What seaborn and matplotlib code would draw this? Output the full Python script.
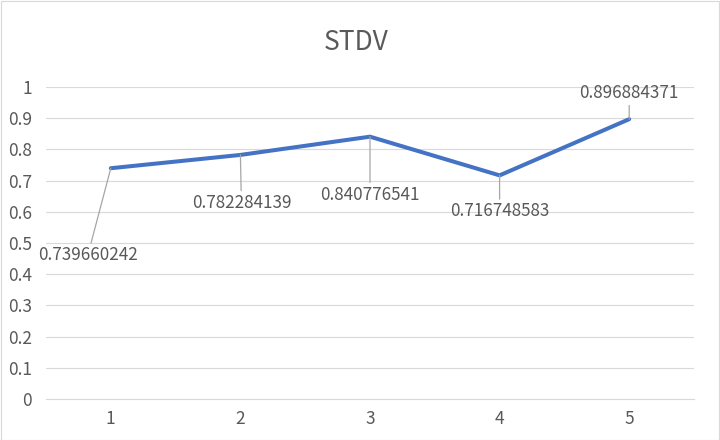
import matplotlib
matplotlib.use('Agg')
import matplotlib.pyplot as plt
import pandas as pd
import seaborn as sns
from matplotlib.patches import Rectangle

runs = [1, 2, 3, 4, 5]
stdv = [0.739660242, 0.782284139, 0.840776541, 0.716748583, 0.896884371]
# where each data label sits relative to its point (pixels)
label_offsets = [(-23, -87), (1, -48), (0, -58), (0, -36), (0, 26)]

sns.set_theme(style='white')
plt.rcParams['font.family'] = ['Noto Sans CJK SC', 'DejaVu Sans']

df = pd.DataFrame({'run': runs, 'stdv': stdv})

fig = plt.figure(figsize=(7.2, 4.4), dpi=100)
ax = fig.add_axes([46 / 720, 1 - 399 / 440, 648 / 720, 312 / 440])

sns.lineplot(data=df, x='run', y='stdv', ax=ax, color='#4472C4', linewidth=2.9,
             solid_capstyle='round', solid_joinstyle='miter', zorder=3)

ax.set_xlim(0.5, 5.5)
ax.set_ylim(0, 1)
ax.set_xticks(runs)
ax.set_yticks([i / 10 for i in range(11)])
ax.yaxis.set_major_formatter(matplotlib.ticker.FormatStrFormatter('%g'))
ax.yaxis.grid(True, color='#D9D9D9', linewidth=0.8)
ax.set_axisbelow(True)
for s in ['top', 'right', 'left']:
    ax.spines[s].set_visible(False)
ax.spines['bottom'].set_color('#D9D9D9')
ax.spines['bottom'].set_linewidth(0.8)
ax.tick_params(axis='both', length=0, labelsize=12.5, labelcolor='#595959')
ax.tick_params(axis='y', pad=10)
ax.tick_params(axis='x', pad=8)
ax.set_xlabel('')
ax.set_ylabel('')

for x, y, (dx, dy) in zip(runs, stdv, label_offsets):
    ax.annotate(f'{y:.9f}', xy=(x, y), xytext=(dx, dy), textcoords='offset pixels',
                ha='center', va='center', fontsize=12.3, color='#595959',
                arrowprops=dict(arrowstyle='-', color='#A6A6A6', lw=0.9,
                                shrinkA=0, shrinkB=0))

fig.text(356 / 720, 1 - 43 / 440, 'STDV', ha='center', va='center',
         fontsize=19, color='#595959')

fig.patches.append(Rectangle((0.001, 0.001), 0.997, 0.997, transform=fig.transFigure,
                             fill=False, edgecolor='#D9D9D9', linewidth=0.8))

fig.savefig('out.png', dpi=100)
